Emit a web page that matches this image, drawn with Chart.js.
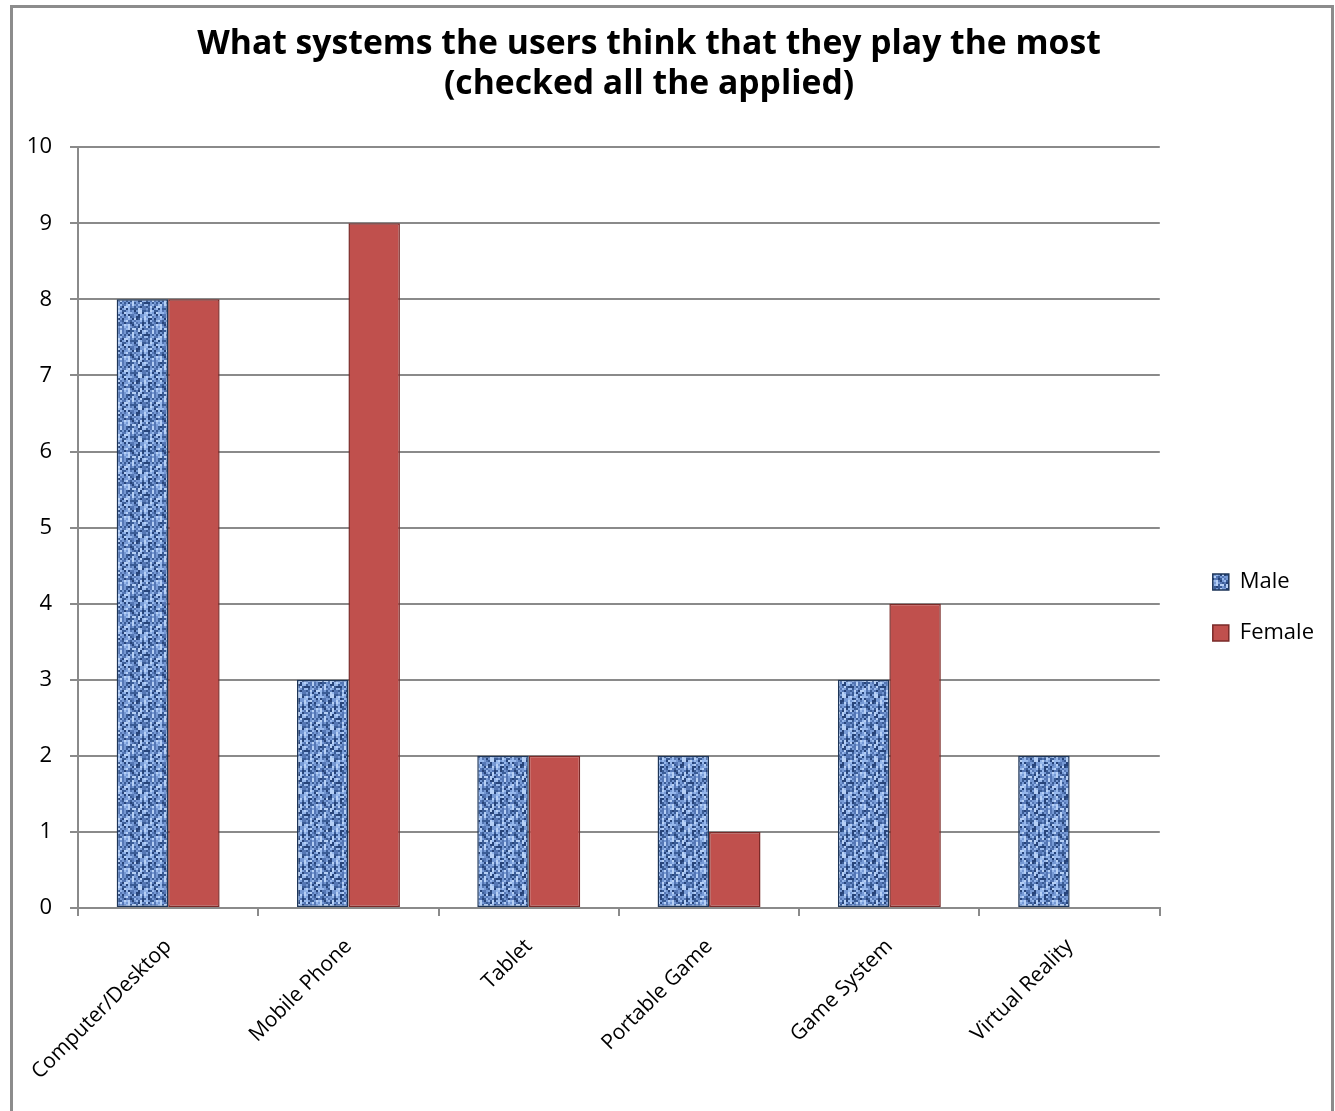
<!DOCTYPE html>
<html>
<head>
<meta charset="utf-8">
<script src="https://cdn.jsdelivr.net/npm/chart.js@4"></script>
<style>
  html, body { margin: 0; padding: 0; background: #fff; overflow: hidden; }
  #frame { position: absolute; left: 10px; top: 5px; width: 1318px; height: 1120px; border: 3px solid #8c8c8c; }
  #wrap { position: absolute; left: 0; top: 0; width: 1335px; height: 1111px; }
</style>
</head>
<body>
<div id="frame"></div>
<div id="wrap"><canvas id="systems_chart" width="1335" height="1111"></canvas></div>
<script>
// survey answers, one count per system
var systems = ['Computer/Desktop', 'Mobile Phone', 'Tablet', 'Portable Game', 'Game System', 'Virtual Reality'];
var maleCounts = [8, 3, 2, 2, 3, 2];
var femaleCounts = [8, 9, 2, 1, 4, 0];
var yTicks = [0, 1, 2, 3, 4, 5, 6, 7, 8, 9, 10];

document.addEventListener('DOMContentLoaded', function() {

// woven blue fill for the male bars (2px blocks, darker vertical threads)
function makeWeave() {
  var c = document.createElement('canvas');
  c.width = 32; c.height = 32;
  var g = c.getContext('2d');
  var seed = 11;
  function rnd() { seed = (seed * 16807) % 2147483647; return seed / 2147483647; }
  var cols = ['#27447a', '#3a5c96', '#5577b5', '#7699d4', '#97b8ec', '#b6d0f6'];
  for (var y = 0; y < 16; y++) {
    for (var x = 0; x < 16; x++) {
      var r = rnd();
      if (x % 3 === 1) r = r * 0.7;
      else if (y % 4 === 0) r = 0.4 + r * 0.6;
      g.fillStyle = cols[Math.min(cols.length - 1, Math.floor(r * cols.length))];
      g.fillRect(x * 2, y * 2, 2, 2);
    }
  }
  return g.createPattern(c, 'repeat');
}
var weave = makeWeave();

// move legend and title a bit after layout
var nudge = {
  id: 'nudge',
  afterLayout: function(chart) {
    var lg = chart.legend;
    lg.left += 24; lg.right += 24;
    lg.top += 52; lg.bottom += 52;
    var t = chart.titleBlock;
    t.left -= 1; t.right -= 1;
  }
};

var font = "'Open Sans', 'Noto Sans', sans-serif";
var ctx = document.getElementById('systems_chart');

new Chart(ctx, {
  type: 'bar',
  data: {
    labels: systems,
    datasets: [{
      label: 'Male',
      data: maleCounts,
      backgroundColor: weave,
      borderColor: '#1d3558',
      borderWidth: 1.5,
      borderSkipped: false,
      categoryPercentage: 0.571,
      barPercentage: 1
    }, {
      label: 'Female',
      data: femaleCounts,
      backgroundColor: '#c0504d',
      borderColor: '#7a2a28',
      borderWidth: 1.5,
      borderSkipped: false,
      categoryPercentage: 0.571,
      barPercentage: 1
    }]
  },
  plugins: [nudge],
  options: {
    responsive: false,
    animation: false,
    devicePixelRatio: 1,
    layout: { padding: { left: 0, right: 35, top: 0, bottom: 0 } },
    plugins: {
      title: {
        display: true,
        text: ['What systems the users think that they play the most', '(checked all the applied)'],
        color: '#000',
        font: { family: font, size: 33.7, weight: 'bold', lineHeight: 1.19 },
        padding: { top: 24, bottom: 43 }
      },
      legend: {
        position: 'right',
        labels: {
          color: '#000',
          font: { family: font, size: 22 },
          boxWidth: 16,
          boxHeight: 16,
          padding: 29
        }
      },
      tooltip: { enabled: false }
    },
    scales: {
      x: {
        offset: true,
        grid: { offset: true, drawOnChartArea: false, color: '#8a8a8a', lineWidth: 2, tickLength: 8 },
        border: { color: '#8a8a8a', width: 2 },
        ticks: { color: '#000', font: { family: font, size: 21 }, minRotation: 45, maxRotation: 45, padding: 18 },
        afterFit: function(scale) { scale.height = 203; }
      },
      y: {
        min: 0,
        max: 10,
        afterBuildTicks: function(scale) { scale.ticks = yTicks.map(function(v) { return { value: v }; }); },
        grid: { color: '#8a8a8a', lineWidth: 2, tickLength: 8 },
        border: { color: '#8a8a8a', width: 2 },
        ticks: { color: '#000', font: { family: font, size: 22 }, padding: 18 },
        afterFit: function(scale) { scale.width = 78; }
      }
    }
  }
});

});
</script>
</body>
</html>
